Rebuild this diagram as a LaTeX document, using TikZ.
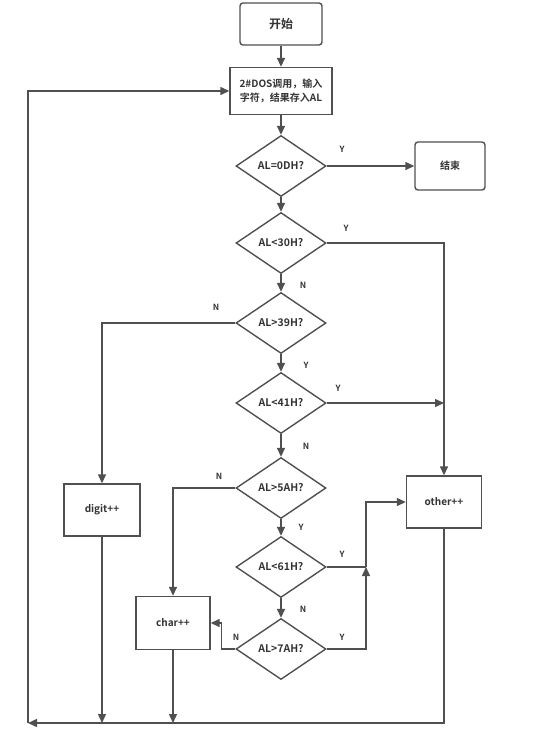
\documentclass[tikz,border=0pt]{standalone}
\usepackage{fontspec}
\setmainfont{Noto Sans CJK SC}[BoldFont={Noto Sans CJK SC Bold}]
\usetikzlibrary{shapes.geometric,arrows.meta}
\definecolor{linegray}{HTML}{505050}
\definecolor{textgray}{HTML}{333333}
\tikzset{
  procbox/.style={draw=linegray, line width=1.4pt, minimum width=76pt, minimum height=52pt,
    inner sep=2pt, align=center, font=\bfseries\fontsize{10}{13}\selectfont, text=textgray},
  termbox/.style={procbox, rounded corners=3pt},
  testnode/.style={diamond, draw=linegray, line width=1.4pt, minimum width=90pt, minimum height=61pt,
    inner sep=0pt, font=\bfseries\fontsize{10.5}{12}\selectfont, text=textgray},
  flow/.style={draw=linegray, line width=1.4pt, -{Triangle[length=9pt,width=8pt]}},
  plain/.style={draw=linegray, line width=1.4pt},
  yn/.style={font=\bfseries\fontsize{8.5}{10}\selectfont, text=textgray}
}
\begin{document}
\begin{tikzpicture}[x=1pt, y=-1pt]
\useasboundingbox (0,0) rectangle (548,732);
% Process boxes
\node[termbox, minimum width=82pt, minimum height=42pt, font=\bfseries\fontsize{12}{14}\selectfont] (start) at (281,24) {开始};
\node[procbox, minimum width=102pt, minimum height=47pt, font=\bfseries\fontsize{10}{14}\selectfont] (dos) at (281,91) {2\#DOS调用，输入\\字符，结果存入AL};
\node[termbox, minimum width=70pt, minimum height=48pt] (end) at (450,166) {结束};
\node[procbox] (digit) at (102,510) {digit++};
\node[procbox, minimum width=74pt, minimum height=53pt] (char) at (173,623) {char++};
\node[procbox, minimum width=75pt, minimum height=52pt] (other) at (444,502) {other++};
% Tests
\node[testnode] (zero) at (281,166) {AL=0DH?};
\node[testnode] (lt30) at (281,243) {AL<30H?};
\node[testnode] (gt39) at (281,323) {AL>39H?};
\node[testnode] (lt41) at (281,403) {AL<41H?};
\node[testnode] (gt5a) at (281,488) {AL>5AH?};
\node[testnode] (lt61) at (281,567) {AL<61H?};
\node[testnode] (gt7a) at (281,649) {AL>7AH?};
% Junction points
\coordinate (otherin) at (444,403);
\coordinate (upjoin) at (366,567);
\coordinate (loopend) at (28,723);
% Main column
\draw[flow] (start) -- (dos);
\draw[flow] (dos) -- (zero);
\draw[flow] (zero) -- (lt30);
\draw[flow] (lt30) -- (gt39);
\draw[flow] (gt39) -- (lt41);
\draw[flow] (lt41) -- (gt5a);
\draw[flow] (gt5a) -- (lt61);
\draw[flow] (lt61) -- (gt7a);
% Branches
\draw[flow] (zero.east) -- (end.west);
\draw[flow] (lt30.east) -| (other.north);
\draw[flow] (lt41.east) -- (otherin);
\draw[flow] (gt39.west) -| (digit.north);
\draw[flow] (gt5a.west) -| (char.north);
\draw[plain] (lt61.east) -- (upjoin);
\draw[flow] (gt7a.east) -| (upjoin);
\draw[flow] (upjoin) |- (other.west);
\draw[flow] (gt7a.west) -- ++(-14,0) |- (char.east);
% Return loop
\draw[flow] (digit.south) -- (digit.south |- loopend);
\draw[flow] (char.south) -- (char.south |- loopend);
\draw[flow] (other.south) |- (loopend);
\draw[flow] (loopend) |- (dos.west);
% Y / N labels
\node[yn] (y1) at (342,149) {Y};
\node[yn] (y2) at (346,228) {Y};
\node[yn] (n1) at (303,285) {N};
\node[yn] (n2) at (216,307) {N};
\node[yn] (y3) at (306,365) {Y};
\node[yn] (y4) at (338,388) {Y};
\node[yn] (n3) at (306,446) {N};
\node[yn] (n4) at (219,476) {N};
\node[yn] (y5) at (301,527) {Y};
\node[yn] (y6) at (342,554) {Y};
\node[yn] (n5) at (303,609) {N};
\node[yn] (n6) at (236,637) {N};
\node[yn] (y7) at (342,637) {Y};
\end{tikzpicture}
\end{document}
